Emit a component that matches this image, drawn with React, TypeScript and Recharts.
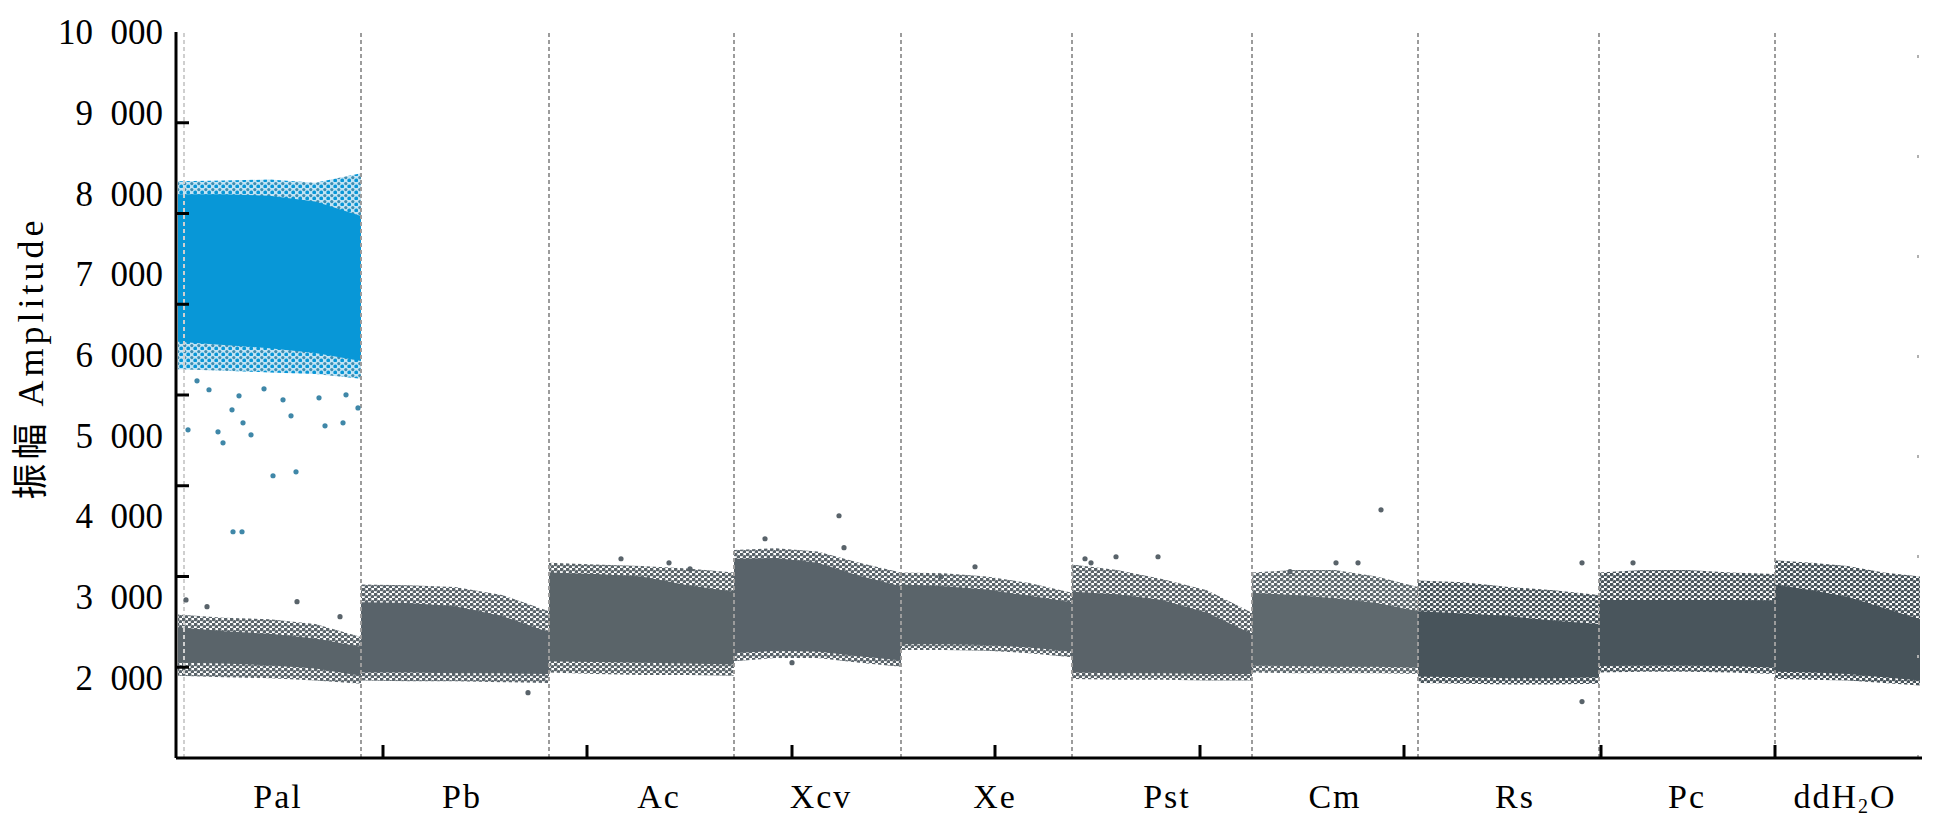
import { ComposedChart, Area, Scatter, XAxis, YAxis, ReferenceLine } from "recharts";

const wells = ["Pal", "Pb", "Ac", "Xcv", "Xe", "Pst", "Cm", "Rs", "Pc", "ddH2O"];

// droplet event index where each well starts / ends
const wellEdges = [2, 185, 373, 558, 725, 896, 1076, 1242, 1423, 1599, 1744];
const dividers = [8, 185, 373, 558, 725, 896, 1076, 1242, 1423, 1599];
const rightEdge = 1742;

// axis ticks
const yLabelTicks = [2000, 3000, 4000, 5000, 6000, 7000, 8000, 9000, 10000];
const yMarkTicks = [1, 2, 3, 4, 5, 6, 7];
const xLabelPositions = [102, 286, 483, 645, 819, 991, 1159, 1339, 1511, 1669];
const xMarkTicks = [207, 411, 616, 819, 1024, 1228, 1425, 1599];

// negative droplets: amplitude envelopes, 5 readings across each well (start -> end)
const grayHaloHigh = [
  [2780, 2740, 2720, 2660, 2500],
  [3150, 3140, 3120, 3020, 2820],
  [3420, 3400, 3380, 3350, 3300],
  [3580, 3600, 3560, 3420, 3300],
  [3300, 3290, 3250, 3170, 3050],
  [3400, 3330, 3220, 3080, 2800],
  [3300, 3330, 3330, 3250, 3120],
  [3200, 3180, 3120, 3080, 3020],
  [3300, 3330, 3330, 3300, 3280],
  [3450, 3420, 3380, 3300, 3250],
];
const grayCoreHigh = [
  [2620, 2570, 2540, 2480, 2380],
  [2930, 2920, 2880, 2760, 2560],
  [3300, 3280, 3250, 3140, 3060],
  [3470, 3480, 3420, 3260, 3130],
  [3150, 3130, 3090, 3010, 2930],
  [3060, 3030, 2960, 2800, 2540],
  [3050, 3020, 2980, 2920, 2820],
  [2820, 2790, 2760, 2700, 2660],
  [2960, 2960, 2960, 2960, 2950],
  [3150, 3080, 3000, 2860, 2720],
];
const grayCoreLow = [
  [2180, 2170, 2150, 2110, 2020],
  [2060, 2060, 2050, 2050, 2040],
  [2200, 2190, 2180, 2170, 2160],
  [2300, 2330, 2320, 2260, 2210],
  [2410, 2410, 2400, 2370, 2320],
  [2060, 2050, 2050, 2040, 2040],
  [2150, 2140, 2130, 2130, 2120],
  [2010, 2000, 1990, 1990, 2000],
  [2140, 2150, 2150, 2140, 2120],
  [2070, 2060, 2040, 2000, 1960],
];
const grayHaloLow = [
  [2020, 2000, 1990, 1960, 1920],
  [1960, 1950, 1950, 1940, 1930],
  [2060, 2040, 2030, 2030, 2020],
  [2200, 2240, 2240, 2180, 2130],
  [2340, 2340, 2330, 2300, 2250],
  [1980, 1970, 1970, 1960, 1960],
  [2060, 2050, 2050, 2050, 2040],
  [1930, 1920, 1910, 1910, 1920],
  [2060, 2070, 2070, 2060, 2040],
  [1980, 1970, 1960, 1930, 1900],
];

// positive droplets (Pal only)
const blueHaloHigh = [8150, 8160, 8170, 8130, 8250];
const blueCoreHigh = [7990, 7990, 7970, 7900, 7720];
const blueCoreLow = [6160, 6120, 6080, 6020, 5920];
const blueHaloLow = [5820, 5800, 5780, 5760, 5700];

// stray droplets [event, amplitude]
const blueStray = [
  [12, 5068], [21, 5676], [33, 5565], [42, 5043], [47, 4907], [56, 5316], [57, 3805],
  [63, 5490], [66, 3805], [67, 5155], [75, 5006], [88, 5577], [97, 4499], [107, 5440],
  [115, 5242], [120, 4548], [143, 5465], [149, 5118], [167, 5155], [170, 5502], [182, 5340],
];
const grayStray = [
  [10, 2960], [31, 2876], [121, 2938], [164, 2752], [352, 1810], [445, 3470], [493, 3420],
  [514, 3346], [589, 3718], [663, 4003], [668, 3607], [616, 2182], [765, 3247], [799, 3371],
  [909, 3470], [915, 3420], [940, 3495], [982, 3495], [1114, 3310], [1160, 3420],
  [1182, 3420], [1205, 4077], [1406, 1700], [1406, 3420], [1457, 3420],
];

const wellColors = [
  "#5a646a", "#59636a", "#5a6469", "#59636a", "#5a646a",
  "#5a6369", "#5f696e", "#48545b", "#49555c", "#47535a",
];
const BLUE = "#0897d7";
const SERIF = '"Liberation Serif", "Times New Roman", "Noto Sans CJK SC", serif';

const rows: Record<string, number | number[]>[] = [];
wells.forEach((_, i) => {
  const a = wellEdges[i];
  const b = wellEdges[i + 1];
  const n = grayCoreHigh[i].length;
  for (let j = 0; j < n; j++) {
    const row: Record<string, number | number[]> = { event: a + ((b - a) * j) / (n - 1) };
    row[`halo${i}`] = [grayHaloLow[i][j], grayHaloHigh[i][j]];
    row[`core${i}`] = [grayCoreLow[i][j], grayCoreHigh[i][j]];
    if (i === 0) {
      row.blueHalo = [blueHaloLow[j], blueHaloHigh[j]];
      row.blueCore = [blueCoreLow[j], blueCoreHigh[j]];
    }
    rows.push(row);
  }
});

const blueDots = blueStray.map(([event, amp]) => ({ event, amp }));
const grayDots = grayStray.map(([event, amp]) => ({ event, amp }));

const fmtAmp = (v: number) => `${Math.round(v / 1000)}\u2002000`;

function WellTick(props: any) {
  const { x, y, payload } = props;
  const name = wells[xLabelPositions.indexOf(payload.value)] ?? "";
  return (
    <text x={x} y={y} dy="0.71em" textAnchor="middle" fontSize={34} fontFamily={SERIF} letterSpacing={2} fill="#000">
      {name === "ddH2O" ? (
        <>
          ddH<tspan fontSize={20} dy={5}>2</tspan>
          <tspan dy={-5}>O</tspan>
        </>
      ) : (
        name
      )}
    </text>
  );
}

const dot = (color: string) => (p: any) => <circle cx={p.cx} cy={p.cy} r={2.6} fill={color} />;

export default function App() {
  return (
    <div style={{ position: "relative", width: 1921, height: 813, background: "#fff" }}>
      <ComposedChart width={1921} height={813} data={rows} margin={{ top: 24, right: 7, bottom: 13, left: 0 }}>
        <defs>
          {wellColors.map((c, i) => (
            <pattern key={i} id={`drops${i}`} width="6" height="5" patternUnits="userSpaceOnUse">
              <circle cx="1.5" cy="1.3" r="1.9" fill={c} />
              <circle cx="4.5" cy="3.8" r="1.9" fill={c} />
            </pattern>
          ))}
          <pattern id="blueDrops" width="7" height="6" patternUnits="userSpaceOnUse">
            <rect width="7" height="6" fill="#c2e4f5" />
            <circle cx="1.8" cy="1.6" r="1.6" fill="#3f8db0" />
            <circle cx="5.2" cy="4.4" r="1.9" fill={BLUE} />
          </pattern>
        </defs>

        <XAxis
          xAxisId="ev"
          dataKey="event"
          type="number"
          domain={[0, 1746]}
          allowDataOverflow
          ticks={xLabelPositions}
          interval={0}
          tickLine={false}
          tickSize={6}
          tickMargin={20}
          height={50}
          axisLine={{ stroke: "#000", strokeWidth: 3 }}
          tick={<WellTick />}
        />
        <XAxis
          xAxisId="marks"
          dataKey="event"
          type="number"
          domain={[0, 1746]}
          allowDataOverflow
          ticks={xMarkTicks}
          interval={0}
          mirror
          height={20}
          axisLine={false}
          tickSize={13}
          tickLine={{ stroke: "#000", strokeWidth: 3 }}
          tickFormatter={() => ""}
        />
        <YAxis
          yAxisId="amp"
          type="number"
          domain={[1000, 10000]}
          allowDataOverflow
          ticks={yLabelTicks}
          interval={0}
          width={168}
          tickLine={false}
          tickSize={6}
          tickMargin={7}
          axisLine={{ stroke: "#000", strokeWidth: 3 }}
          tickFormatter={fmtAmp}
          tick={{ fill: "#000", fontSize: 35, fontFamily: SERIF }}
        />
        <YAxis
          yAxisId="marks"
          type="number"
          domain={[0, 8]}
          allowDataOverflow
          ticks={yMarkTicks}
          interval={0}
          mirror
          width={20}
          axisLine={false}
          tickSize={13}
          tickLine={{ stroke: "#000", strokeWidth: 3 }}
          tickFormatter={() => ""}
        />

        {wells.map((_, i) => (
          <Area
            key={`halo${i}`}
            xAxisId="ev"
            yAxisId="amp"
            type="linear"
            dataKey={`halo${i}`}
            stroke="none"
            fill={`url(#drops${i})`}
            fillOpacity={1}
            isAnimationActive={false}
          />
        ))}
        {wells.map((_, i) => (
          <Area
            key={`core${i}`}
            xAxisId="ev"
            yAxisId="amp"
            type="linear"
            dataKey={`core${i}`}
            stroke="none"
            fill={wellColors[i]}
            fillOpacity={1}
            isAnimationActive={false}
          />
        ))}
        <Area
          xAxisId="ev"
          yAxisId="amp"
          type="linear"
          dataKey="blueHalo"
          stroke="none"
          fill="url(#blueDrops)"
          fillOpacity={1}
          isAnimationActive={false}
        />
        <Area
          xAxisId="ev"
          yAxisId="amp"
          type="linear"
          dataKey="blueCore"
          stroke="none"
          fill={BLUE}
          fillOpacity={1}
          isAnimationActive={false}
        />

        <Scatter xAxisId="ev" yAxisId="amp" data={grayDots} dataKey="amp" shape={dot("#59636a")} isAnimationActive={false} />
        <Scatter xAxisId="ev" yAxisId="amp" data={blueDots} dataKey="amp" shape={dot("#3f87a8")} isAnimationActive={false} />

        {dividers.map((d, i) => (
          <ReferenceLine
            key={d}
            xAxisId="ev"
            yAxisId="amp"
            x={d}
            stroke={i === 0 ? "#cfcfcf" : "#9c9c9c"}
            strokeWidth={2}
            strokeDasharray="4 3"
          />
        ))}
        <ReferenceLine xAxisId="ev" yAxisId="amp" x={rightEdge} stroke="#b0b0b0" strokeWidth={2} strokeDasharray="3 97" />
      </ComposedChart>
      <div
        style={{
          position: "absolute",
          left: 19,
          top: 350,
          transform: "translate(-50%, -50%) rotate(-90deg)",
          whiteSpace: "nowrap",
          fontSize: 36,
          fontFamily: SERIF,
          letterSpacing: 4,
          color: "#000",
        }}
      >
        振幅 Amplitude
      </div>
    </div>
  );
}
